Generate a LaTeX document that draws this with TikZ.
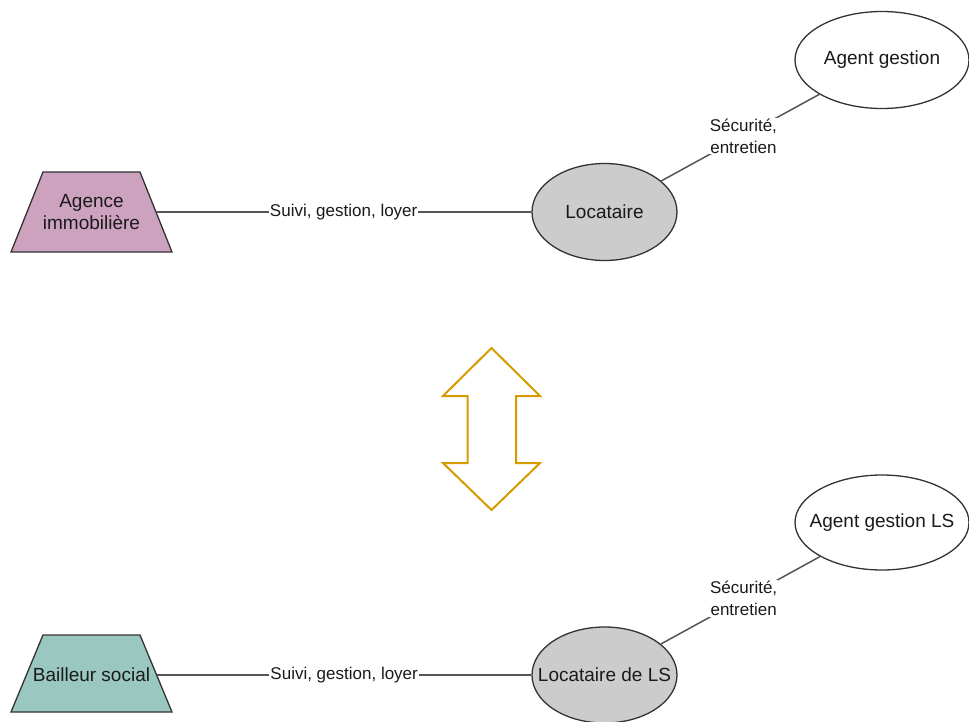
\documentclass[tikz,border=0pt]{standalone}
\usepackage{fontspec}
\setmainfont{Liberation Sans}
\usetikzlibrary{shapes.geometric}
\definecolor{pinkfill}{HTML}{CDA2BE}
\definecolor{tealfill}{HTML}{9AC7BF}
\definecolor{grayfill}{HTML}{CCCCCC}
\definecolor{strokec}{HTML}{333333}
\definecolor{linec}{HTML}{555555}
\definecolor{arrowc}{HTML}{D79B00}
\definecolor{textc}{HTML}{1A1A1A}
\tikzset{
  trapline/.style={draw=strokec, line width=1.3pt, line join=miter},
  traptext/.style={inner sep=0pt, text=textc, align=center, font=\fontsize{19}{22}\selectfont},
  ell/.style={ellipse, draw=strokec, line width=1.3pt, inner sep=0pt, text=textc,
    font=\fontsize{19}{22}\selectfont},
  conn/.style={draw=linec, line width=1.5pt},
  lbl/.style={fill=white, inner sep=1pt, text=textc, align=center, font=\fontsize{17}{22}\selectfont},
  bigarrow/.style={draw=arrowc, line width=2pt, line join=miter}
}
\newcommand{\zw}[1]{\makebox[0pt]{#1}}
\begin{document}
\begin{tikzpicture}[x=1pt,y=-1pt]
\useasboundingbox (0,0) rectangle (969,721);
% top row
\path[trapline, fill=pinkfill] (11,252) -- (43,172) -- (140,172) -- (172,252) -- cycle;
\node[traptext] (agence) at (91.5,212) {Agence\\immobilière};
\coordinate (agenceE) at (156,212);
\node[ell, fill=grayfill, minimum width=145, minimum height=97] (loc) at (604.5,212) {\zw{Locataire}};
\node[ell, fill=white, minimum width=174, minimum height=97] (agent) at (882,60) {\zw{Agent gestion}};
\draw[conn] (agenceE) -- node[lbl] {Suivi, gestion, loyer} (loc.west);
\draw[conn] (loc) -- node[lbl, pos=0.52] {Sécurité,\\entretien} (agent);
% bottom row
\path[trapline, fill=tealfill] (11,712) -- (43,635) -- (140,635) -- (172,712) -- cycle;
\node[traptext] (bailleur) at (91.5,675) {\zw{Bailleur social}};
\coordinate (bailleurE) at (157,675);
\node[ell, fill=grayfill, minimum width=145, minimum height=96] (locls) at (604.5,675) {\zw{Locataire de LS}};
\node[ell, fill=white, minimum width=174, minimum height=95] (agentls) at (882,522.5) {\zw{Agent gestion LS}};
\draw[conn] (bailleurE) -- node[lbl] {Suivi, gestion, loyer} (locls.west);
\draw[conn] (locls) -- node[lbl, pos=0.52] {Sécurité,\\entretien} (agentls);
% double arrow
\draw[bigarrow] (491.5,348) -- (540,396) -- (516,396) -- (516,463) -- (540,463) -- (491.5,510)
  -- (443,463) -- (467.5,463) -- (467.5,396) -- (443,396) -- cycle;
\end{tikzpicture}
\end{document}
